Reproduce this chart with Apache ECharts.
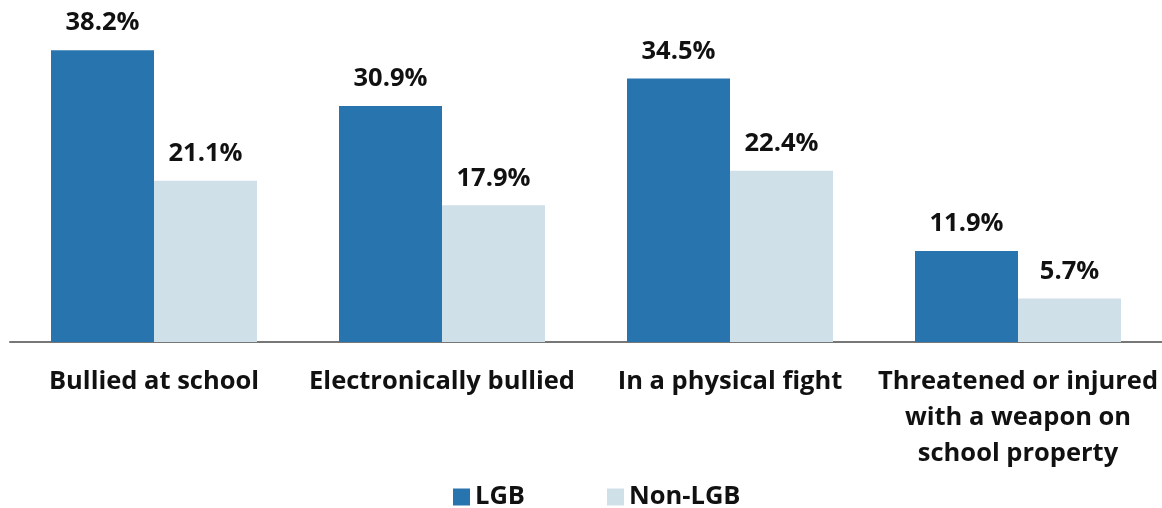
<!DOCTYPE html>
<html>
<head>
<meta charset="utf-8">
<script src="https://cdn.jsdelivr.net/npm/echarts@6/dist/echarts.min.js"></script>
<style>html,body{margin:0;padding:0;background:#fff}#c{width:1162px;height:508px}</style>
</head>
<body>
<div id="c"></div>
<script>
var categories = ['Bullied at school', 'Electronically bullied', 'In a physical fight', 'Threatened or injured\nwith a weapon on\nschool property'];
var lgbValues = [38.2, 30.9, 34.5, 11.9];
var nonLgbValues = [21.1, 17.9, 22.4, 5.7];
var seriesNames = ['LGB', 'Non-LGB'];

var font = '"Open Sans", sans-serif';
var chart = echarts.init(document.getElementById('c'));
var labelCfg = {
  show: true, position: 'top', distance: 14,
  fontFamily: font, fontWeight: 'bold', fontSize: 25.5, color: '#111',
  formatter: function (p) { return p.value.toFixed(1) + '%'; }
};
chart.setOption({
  animation: false,
  textStyle: { fontFamily: font },
  grid: { left: 10, right: 0, top: 36.4, bottom: 166, containLabel: false },
  legend: {
    left: 453, top: 484, padding: 0,
    itemWidth: 17, itemHeight: 17, itemGap: 82,
    icon: 'rect',
    textStyle: { fontFamily: font, fontWeight: 'bold', fontSize: 25.5, color: '#111', padding: [0, 0, 0, 0] },
    data: seriesNames
  },
  xAxis: {
    type: 'category', data: categories,
    axisLine: { lineStyle: { color: '#777', width: 2 } },
    axisTick: { show: false },
    axisLabel: { interval: 0, margin: 22, fontFamily: font, fontWeight: 'bold', fontSize: 25.5, lineHeight: 36, color: '#111' }
  },
  yAxis: { type: 'value', min: 0, max: 40, show: false, splitLine: { show: false } },
  series: [
    { name: seriesNames[0], type: 'bar', data: lgbValues, barWidth: 103, barGap: '0%', itemStyle: { color: '#2874AE' }, label: labelCfg },
    { name: seriesNames[1], type: 'bar', data: nonLgbValues, barWidth: 103, barGap: '0%', itemStyle: { color: '#D0E0E8' }, label: labelCfg }
  ]
});
</script>
</body>
</html>
